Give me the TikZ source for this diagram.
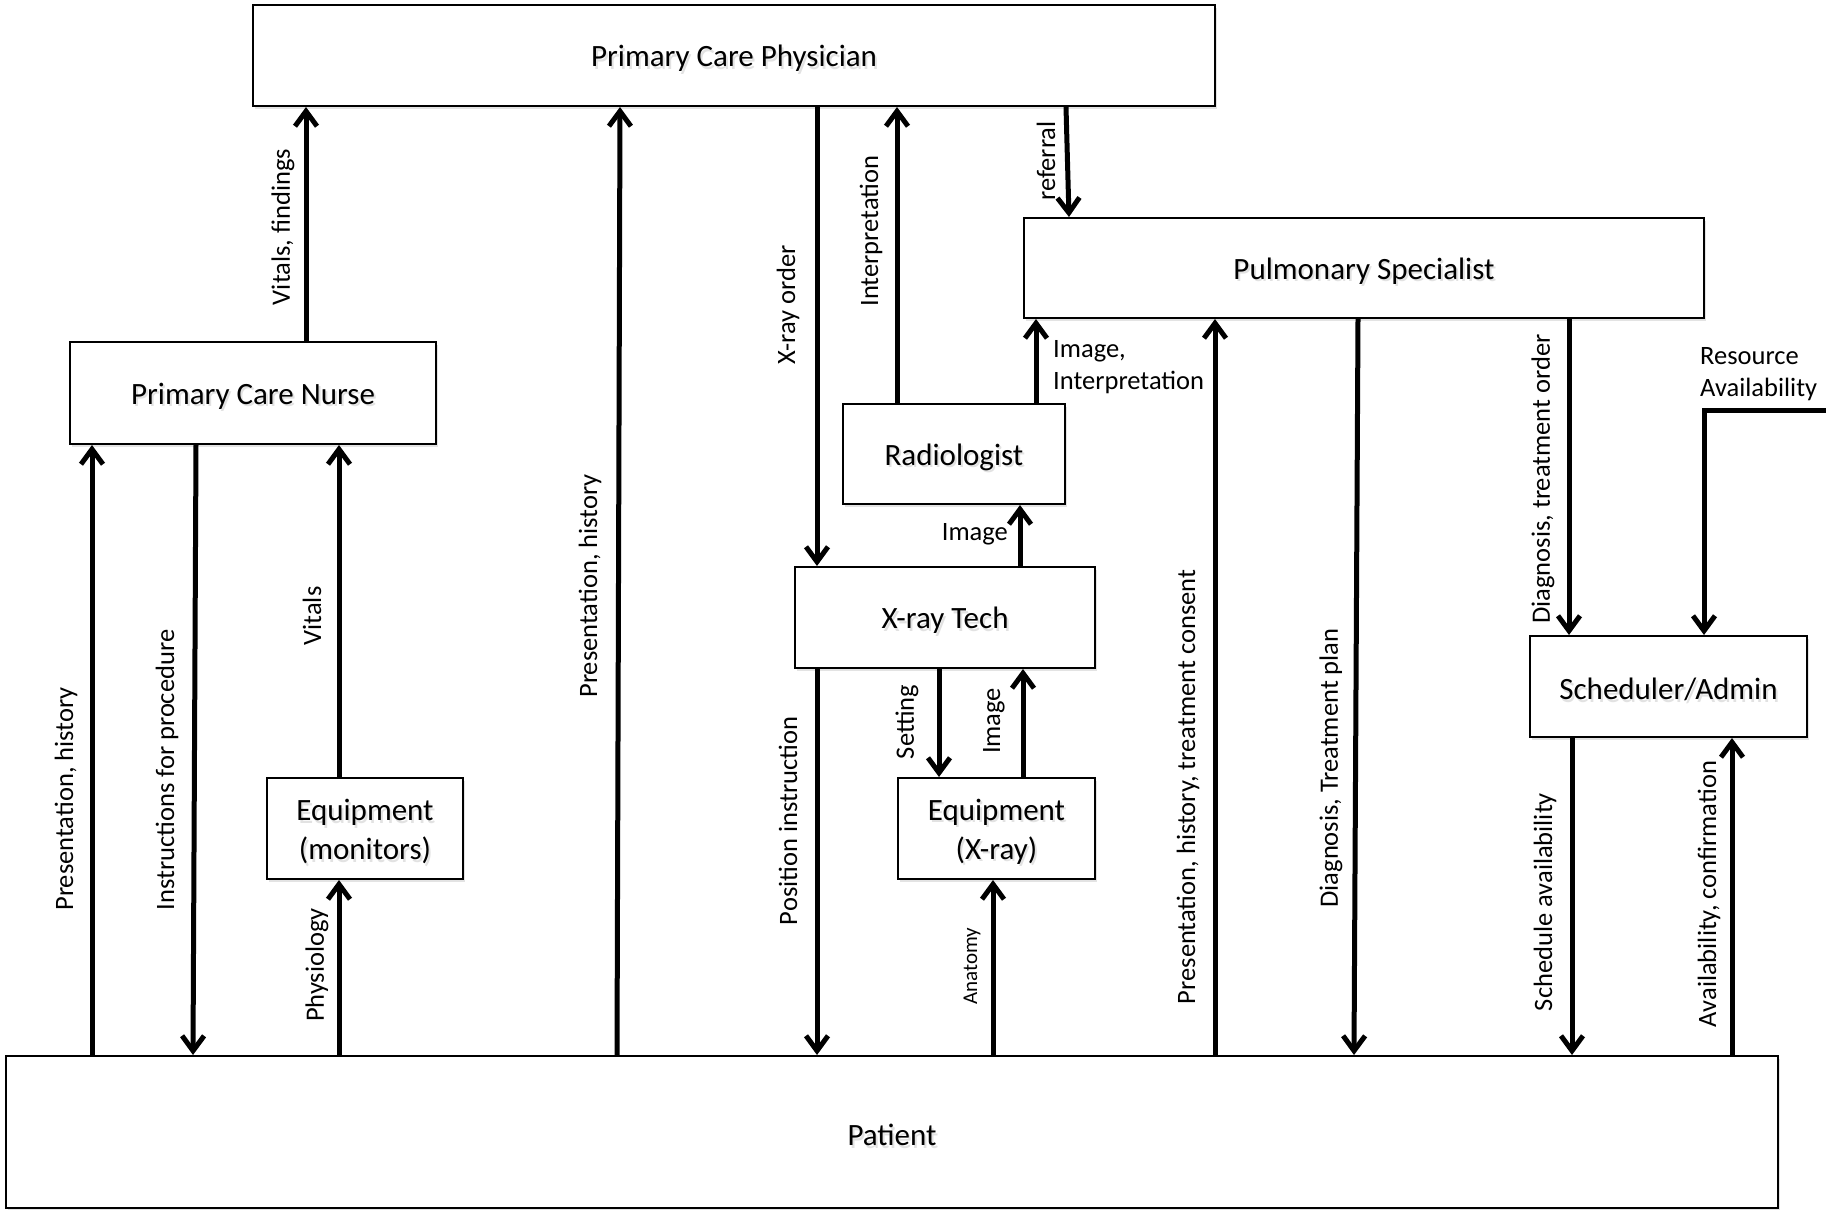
\documentclass[tikz,border=0pt]{standalone}
\usepackage{fontspec}
\setmainfont{Carlito}
\usetikzlibrary{arrows.meta,shadows}

% one unit = one point; the y axis runs downwards
\tikzset{
  box/.style={draw, line width=2pt, fill=white, inner sep=0pt,
    drop shadow={shadow xshift=2pt, shadow yshift=-2.5pt, opacity=0.22}},
  boxtext/.style={align=center, inner sep=0pt,
    font=\fontsize{31}{39}\selectfont},
  boxshade/.style={boxtext, text=black!25, opacity=0.45},
  flow/.style={line width=5pt, -{Straight Barb[length=15pt,width=22pt]}},
  lbl/.style={inner sep=0pt, font=\fontsize{26.5}{32}\selectfont},
  vlbl/.style={lbl, rotate=90},
  smalllbl/.style={vlbl, font=\fontsize{21}{25}\selectfont},
}

% #1 name, #2 centre x, #3 centre y, #4 width, #5 height, #6 text
\newcommand\entity[6]{%
  \node[box, minimum width=#4pt, minimum height=#5pt] (#1) at (#2,#3) {};
  \node[boxshade] (#1-shade) at (#2+2,#3+5.5) {#6};
  \node[boxtext] (#1-text) at (#2,#3+3) {#6};
}

\begin{document}
\begin{tikzpicture}[x=1pt, y=-1pt]
\useasboundingbox (0,0) rectangle (1826,1210);

% actors
\entity{pcp}{734}{55.5}{962}{101}{Primary Care Physician}
\entity{nurse}{253}{393}{366}{102}{Primary Care Nurse}
\entity{eqmon}{365}{828.5}{196}{101}{Equipment\\(monitors)}
\entity{radio}{954}{454}{222}{100}{Radiologist}
\entity{xtech}{945}{617.5}{300}{101}{X-ray Tech}
\entity{eqx}{996.5}{828.5}{197}{101}{Equipment\\(X-ray)}
\entity{pulm}{1364}{268}{680}{100}{Pulmonary Specialist}
\entity{sched}{1668.5}{686.5}{277}{101}{Scheduler/Admin}
\entity{patient}{892}{1132}{1772}{152}{Patient}

% columns of the connectors
\coordinate (cPH) at (92,0);
\coordinate (cIPt) at (196,0);
\coordinate (cIPb) at (193,0);
\coordinate (cVF) at (306,0);
\coordinate (cV) at (339,0);
\coordinate (cMPt) at (620,0);
\coordinate (cMPb) at (617,0);
\coordinate (cXO) at (817,0);
\coordinate (cIN) at (897,0);
\coordinate (cSE) at (939,0);
\coordinate (cAN) at (993,0);
\coordinate (cIM) at (1020,0);
\coordinate (cIX) at (1023,0);
\coordinate (cII) at (1036,0);
\coordinate (cREt) at (1066,0);
\coordinate (cREb) at (1069,0);
\coordinate (cPT) at (1215,0);
\coordinate (cDTt) at (1358,0);
\coordinate (cDTb) at (1354,0);
\coordinate (cDO) at (1569,0);
\coordinate (cSA) at (1572,0);
\coordinate (cRA) at (1704,0);
\coordinate (cAC) at (1732,0);
\coordinate (resin) at (1826,410);

% connectors
\draw[flow] (nurse.north -| cVF) -- (pcp.south -| cVF);
\draw[flow] (patient.north -| cPH) -- (nurse.south -| cPH);
\draw[flow] (nurse.south -| cIPt) -- (patient.north -| cIPb);
\draw[flow] (eqmon.north -| cV) -- (nurse.south -| cV);
\draw[flow] (patient.north -| cV) -- (eqmon.south -| cV);
\draw[flow] (patient.north -| cMPb) -- (pcp.south -| cMPt);
\draw[flow] (pcp.south -| cXO) -- (xtech.north -| cXO);
\draw[flow] (radio.north -| cIN) -- (pcp.south -| cIN);
\draw[flow] (pcp.south -| cREt) -- (pulm.north -| cREb);
\draw[flow] (radio.north -| cII) -- (pulm.south -| cII);
\draw[flow] (xtech.north -| cIM) -- (radio.south -| cIM);
\draw[flow] (xtech.south -| cXO) -- (patient.north -| cXO);
\draw[flow] (xtech.south -| cSE) -- (eqx.north -| cSE);
\draw[flow] (eqx.north -| cIX) -- (xtech.south -| cIX);
\draw[flow] (patient.north -| cAN) -- (eqx.south -| cAN);
\draw[flow] (patient.north -| cPT) -- (pulm.south -| cPT);
\draw[flow] (pulm.south -| cDTt) -- (patient.north -| cDTb);
\draw[flow] (pulm.south -| cDO) -- (sched.north -| cDO);
\draw[flow] (resin) -| (sched.north -| cRA);
\draw[flow] (sched.south -| cSA) -- (patient.north -| cSA);
\draw[flow] (patient.north -| cAC) -- (sched.south -| cAC);

% connector labels
\node[vlbl] (l-vf) at (283,227) {Vitals, findings};
\node[vlbl] (l-ph1) at (66,799) {Presentation, history};
\node[vlbl] (l-ip) at (167,770) {Instructions for procedure};
\node[vlbl] (l-vi) at (312,616) {Vitals};
\node[vlbl] (l-py) at (317,965) {Physiology};
\node[vlbl] (l-ph2) at (590,586) {Presentation, history};
\node[vlbl] (l-xo) at (788,305) {X-ray order};
\node[vlbl] (l-in) at (871,231) {Interpretation};
\node[vlbl] (l-re) at (1046,161) {referral};
\node[vlbl] (l-pi) at (788,821) {Position instruction};
\node[vlbl] (l-se) at (907,722) {Setting};
\node[vlbl] (l-im2) at (994,721) {Image};
\node[smalllbl] (l-an) at (972,966) {Anatomy};
\node[vlbl] (l-pht) at (1188,787) {Presentation, history, treatment consent};
\node[vlbl] (l-dt) at (1331,768) {Diagnosis, Treatment plan};
\node[vlbl] (l-do) at (1543,479) {Diagnosis, treatment order};
\node[vlbl] (l-sa) at (1545,902) {Schedule availability};
\node[vlbl] (l-ac) at (1709,894) {Availability, confirmation};
\node[lbl, anchor=east] (l-im1) at (1008,534) {Image};
\node[lbl, anchor=west, align=left] (l-ii) at (1053,367) {Image,\\Interpretation};
\node[lbl, anchor=west, align=left] (l-ra) at (1700,374) {Resource\\Availability};
\end{tikzpicture}
\end{document}
